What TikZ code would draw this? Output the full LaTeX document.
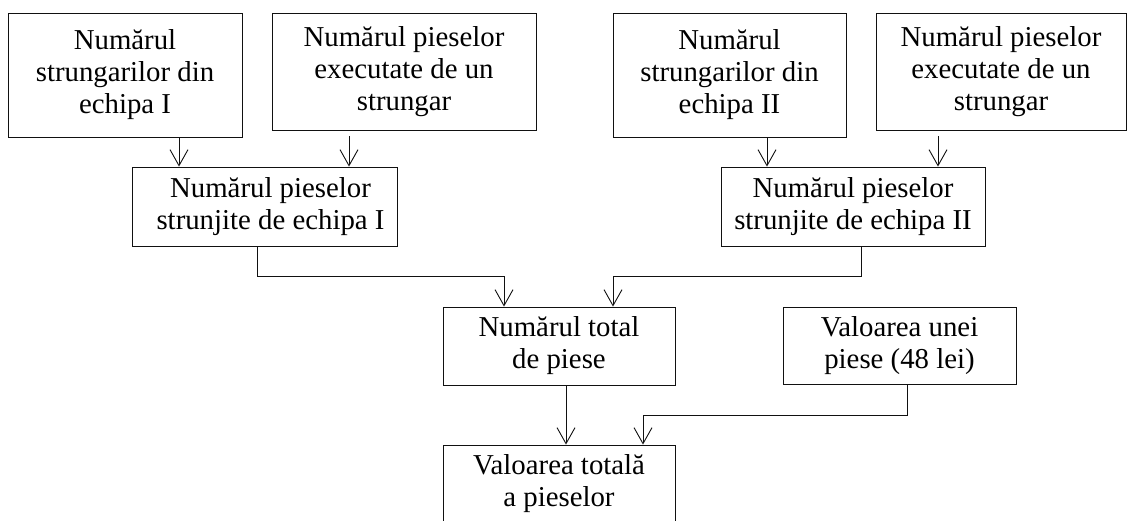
\documentclass[tikz,border=0pt]{standalone}
\usepackage{fontspec}
\setmainfont{Liberation Serif}
\usepackage{tikz}
\usepackage{xcolor}
\usetikzlibrary{arrows.meta,positioning,calc}
\definecolor{ink}{HTML}{111111}
\definecolor{paper}{HTML}{FFFFFF}
\tikzset{
  planbox/.style={
    draw=ink, fill=paper, line width=0.9pt,
    align=center, inner sep=0pt,
    font=\fontsize{28.8}{32}\selectfont
  },
  flowarrow/.style={
    draw=ink, line width=0.9pt,
    -{Straight Barb[length=16pt,width=18pt]}
  }
}

\begin{document}
\begin{tikzpicture}[x=1pt,y=-1pt]
  \useasboundingbox[fill=paper] (0,0) rectangle (1127,521);
  % first row
  \node[planbox,minimum width=234pt,minimum height=124pt] (nrI) at (125,75)
    {Numărul\\strungarilor din\\echipa I};
  \node[planbox,minimum width=264pt,minimum height=117pt] (pieseI) at (404,71.5)
    {Numărul pieselor\\executate de un\\strungar};
  \node[planbox,minimum width=233pt,minimum height=124pt] (nrII) at (729.5,75)
    {Numărul\\strungarilor din\\echipa II};
  \node[planbox,minimum width=250pt,minimum height=117pt] (pieseII) at (1001,71.5)
    {Numărul pieselor\\executate de un\\strungar};
  % second row
  \node[planbox,minimum width=265pt,minimum height=79pt] (echI) at (264.5,206.5)
    {\hspace*{12pt}Numărul pieselor\\\hspace*{12pt}strunjite de echipa I};
  \node[planbox,minimum width=264pt,minimum height=79pt] (echII) at (853,206.5)
    {Numărul pieselor\\strunjite de echipa II};
  % totals
  \node[planbox,minimum width=232pt,minimum height=78pt] (total) at (559,346)
    {Numărul total\\de piese};
  \node[planbox,minimum width=233pt,minimum height=77pt] (pret) at (899.5,345.5)
    {Valoarea unei\\piese (48 lei)};
  \node[planbox,minimum width=232pt,minimum height=78pt] (valoare) at (559,484)
    {Valoarea totală\\a pieselor};

  % entry points on the lower boxes
  \coordinate (inIa) at ([xshift=-85.5pt]echI.north);
  \coordinate (inIb) at ([xshift=84.5pt]echI.north);
  \coordinate (inIIa) at ([xshift=-86pt]echII.north);
  \coordinate (inIIb) at ([xshift=85pt]echII.north);

  \draw[flowarrow] (inIa |- nrI.south) -- (inIa);
  \draw[flowarrow] (inIb |- pieseI.south) ++(0,6) -- (inIb);
  \draw[flowarrow] (inIIa |- nrII.south) -- (inIIa);
  \draw[flowarrow] (inIIb |- pieseII.south) ++(0,6) -- (inIIb);

  \draw[flowarrow] ([xshift=-7.5pt]echI.south) -- ++(0,30) -| ([xshift=-55pt]total.north);
  \draw[flowarrow] ([xshift=8pt]echII.south) -- ++(0,30) -| ([xshift=54pt]total.north);
  \draw[flowarrow] ([xshift=7pt]total.south) -- ([xshift=7pt]valoare.north);
  \draw[flowarrow] ([xshift=7.5pt]pret.south) -- ++(0,31) -| ([xshift=84pt]valoare.north);
\end{tikzpicture}
\end{document}
